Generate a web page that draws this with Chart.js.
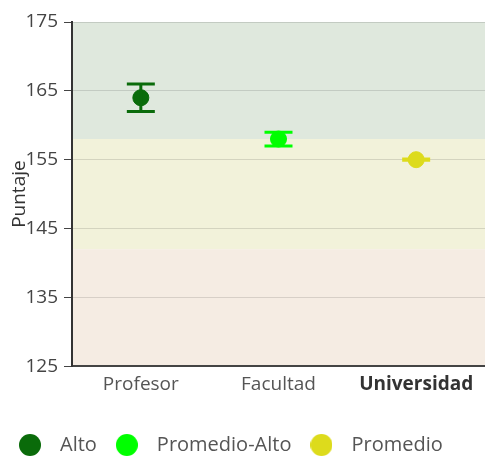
<!DOCTYPE html>
<html>
<head>
<meta charset="utf-8">
<script src="https://cdn.jsdelivr.net/npm/chart.js@4"></script>
<style>
  html, body { margin: 0; padding: 0; background: #fff; overflow: hidden; }
  #wrap { position: absolute; left: 0; top: 0; width: 485px; height: 458px; }
  canvas { display: block; }
</style>
</head>
<body>
<div id="wrap"><canvas id="puntajeChart"></canvas></div>
<script>
// datos
const categorias = ['Profesor', 'Facultad', 'Universidad'];
const niveles = ['Alto', 'Promedio-Alto', 'Promedio'];
const puntajes = [164, 158, 155];
const errores = [2, 1, 0.1];
const coloresNivel = ['#0a6b0a', '#00ff00', '#dddb1c'];

// bandas de fondo (desde, hasta, color)
const bandasDesde = [158, 142, 125];
const bandasHasta = [175, 158, 142];
const bandasColor = ['#dfe8dd', '#f2f2da', '#f5ece3'];

// circulo para la leyenda (canvas como pointStyle)
function circuloLeyenda(color) {
    const c = document.createElement('canvas');
    c.width = 22; c.height = 22;
    const g = c.getContext('2d');
    g.fillStyle = color;
    g.beginPath();
    g.arc(11, 11, 11, 0, Math.PI * 2);
    g.fill();
    return c;
}

// plugin: bandas de fondo
const bandasPlugin = {
    id: 'bandas',
    beforeDraw(chart) {
        const { ctx, chartArea, scales } = chart;
        ctx.save();
        bandasDesde.forEach((desde, i) => {
            const yTop = scales.y.getPixelForValue(bandasHasta[i]);
            const yBot = scales.y.getPixelForValue(desde);
            ctx.fillStyle = bandasColor[i];
            ctx.fillRect(chartArea.left, yTop, chartArea.right - chartArea.left, yBot - yTop);
        });
        ctx.restore();
    }
};

// plugin: barras de error
const erroresPlugin = {
    id: 'errores',
    afterDatasetsDraw(chart) {
        const { ctx, scales } = chart;
        ctx.save();
        ctx.lineWidth = 3;
        puntajes.forEach((v, i) => {
            const x = scales.x.getPixelForValue(i);
            const yTop = scales.y.getPixelForValue(v + errores[i]);
            const yBot = scales.y.getPixelForValue(v - errores[i]);
            ctx.strokeStyle = coloresNivel[i];
            ctx.beginPath();
            ctx.moveTo(x, yTop); ctx.lineTo(x, yBot);
            ctx.moveTo(x - 14, yTop); ctx.lineTo(x + 14, yTop);
            ctx.moveTo(x - 14, yBot); ctx.lineTo(x + 14, yBot);
            ctx.stroke();
        });
        ctx.restore();
    }
};

// un dataset por nivel
const datasets = niveles.map((nivel, i) => ({
    label: nivel,
    data: categorias.map((c, j) => (j === i ? puntajes[j] : null)),
    backgroundColor: coloresNivel[i],
    borderColor: coloresNivel[i],
    pointRadius: 8,
    pointHoverRadius: 8,
    showLine: false
}));

const ctx = document.getElementById('puntajeChart').getContext('2d');
new Chart(ctx, {
    type: 'line',
    data: { labels: categorias, datasets: datasets },
    options: {
        responsive: true,
        maintainAspectRatio: false,
        animation: false,
        layout: { autoPadding: false, padding: { top: 22, right: 0, left: 0, bottom: -7 } },
        plugins: {
            legend: {
                position: 'bottom',
                align: 'start',
                labels: {
                    usePointStyle: true,
                    pointStyleWidth: 40,
                    boxHeight: 20,
                    padding: 10,
                    color: '#555',
                    font: { family: 'Open Sans', size: 20 },
                    generateLabels: (chart) => niveles.map((nivel, i) => ({
                        text: nivel,
                        fillStyle: coloresNivel[i],
                        strokeStyle: coloresNivel[i],
                        fontColor: '#555',
                        lineWidth: 0,
                        pointStyle: circuloLeyenda(coloresNivel[i]),
                        hidden: false,
                        datasetIndex: i
                    }))
                }
            },
            tooltip: { enabled: false }
        },
        scales: {
            x: {
                offset: true,
                afterFit: (scale) => { scale.paddingLeft = 0; scale.paddingRight = 0; scale.height += 22; },
                grid: { display: false, drawTicks: false },
                border: { color: '#444', width: 2 },
                ticks: {
                    color: (c) => (c.index === 2 ? '#333' : '#555'),
                    padding: 7,
                    font: (c) => ({ family: 'Open Sans', size: 19, weight: c.index === 2 ? 'bold' : 'normal' })
                }
            },
            y: {
                min: 125,
                max: 175,
                afterFit: (scale) => { scale.width = 72; scale.paddingTop = 0; scale.paddingBottom = 0; },
                ticks: {
                    stepSize: 10,
                    color: '#444',
                    padding: 6,
                    font: { family: 'Open Sans', size: 19 }
                },
                grid: { color: 'rgba(0,0,0,0.12)', tickColor: '#444', tickLength: 8 },
                border: { color: '#333', width: 2 },
                title: {
                    display: true,
                    text: 'Puntaje',
                    color: '#333',
                    padding: { top: 8, bottom: 0 },
                    font: { family: 'Open Sans', size: 19 }
                }
            }
        }
    },
    plugins: [bandasPlugin, erroresPlugin]
});
</script>
</body>
</html>
